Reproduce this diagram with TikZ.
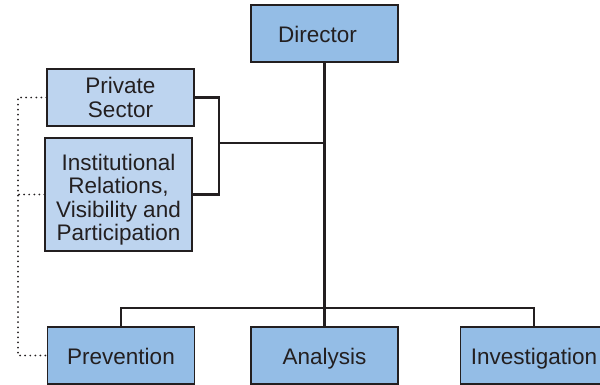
\documentclass[tikz,border=0pt]{standalone}
\usepackage{fontspec}
\setmainfont{Liberation Sans}
\usetikzlibrary{calc}

\definecolor{topblue}{HTML}{94BDE6}
\definecolor{staffblue}{HTML}{BDD4EF}
\definecolor{inkgray}{HTML}{231F20}

\tikzset{
  unit/.style={draw=inkgray, line width=0.8pt, fill=topblue, text=inkgray,
    minimum width=3.675cm, minimum height=1.425cm, inner sep=0pt,
    align=center, font=\fontsize{16}{16.5}\selectfont},
  oneline/.style={text height=13.4pt, text depth=0pt},
  staff/.style={unit, fill=staffblue},
  link/.style={draw=inkgray, line width=1.5pt},
  dots/.style={draw=inkgray, line width=1.4pt, line cap=round, dash pattern=on 0pt off 3.6pt}
}

\begin{document}
\begin{tikzpicture}[x=0.025cm, y=-0.025cm]
    \useasboundingbox (0,0) rectangle (600,384);
    \node[unit, oneline] (dir) at (324.5,33.5) {Director\hspace{10pt}}; % head
    \node[staff] (priv) at (120.5,97.5) {Private\\Sector};
    \node[staff, minimum height=2.825cm] (inst) at (118.5,194.5) {\rule{0pt}{19pt}Institutional\\Relations,\\Visibility and\\Participation};
    \node[unit, oneline] (prev) at (121,355.5) {Prevention};
    \node[unit, oneline] (ana) at (324.5,355.5) {Analysis};
    \node[unit, oneline] (inv) at (534,355.5) {Investigation};
    \coordinate (bus) at (324.5,308);   % branch to the units
    \coordinate (staffjoin) at (219,143); % branch to the staff offices
    \coordinate (rail) at (18,200);     % dotted side line
    \draw[link] (dir.south) -- (ana.north); % main line
    \draw[link] (prev.north) |- (bus) -| (inv.north); % units
    \draw[link] (priv.east) -| (staffjoin) |- (inst.east); % staff
    \draw[link] (staffjoin) -- (staffjoin -| dir.south);
    \draw[dots] (priv.west) -| (rail) |- (prev.west); % dotted link
    \draw[dots] (inst.west) -- (inst.west -| rail);
\end{tikzpicture}
\end{document}
